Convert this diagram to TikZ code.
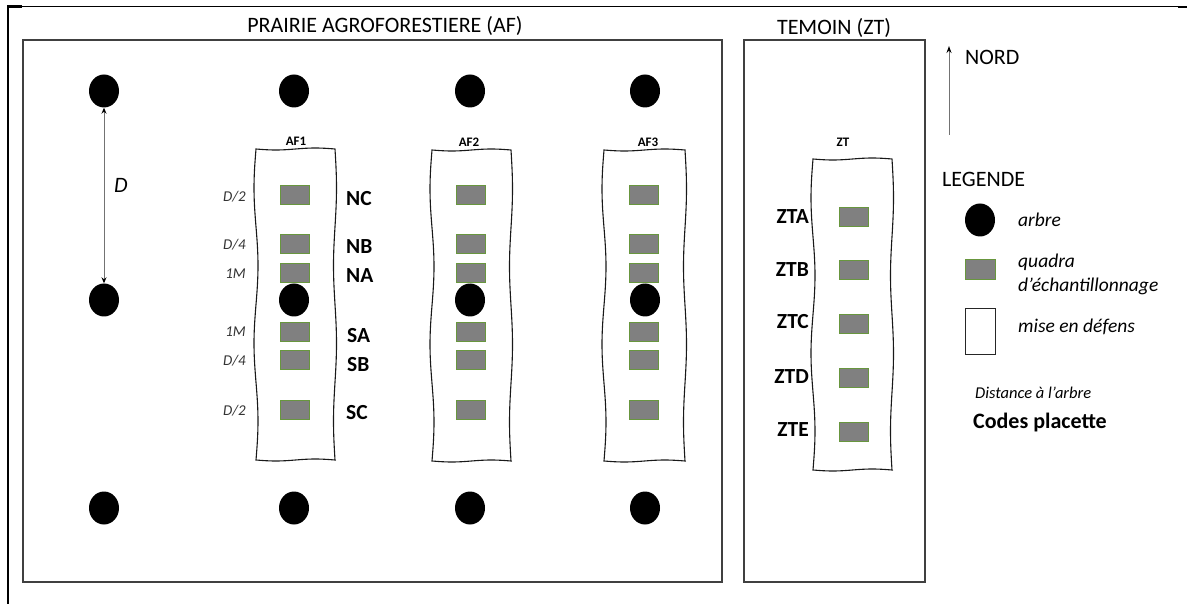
\documentclass[tikz,border=0pt]{standalone}
\usepackage{fontspec}
\setmainfont{Carlito}
\usetikzlibrary{shapes.geometric,arrows.meta}
\definecolor{qgray}{RGB}{128,128,128}
\definecolor{qgreen}{RGB}{104,150,62}
\newcommand{\wavystrip}[4]{%
  \draw[stripline] plot[domain=#1:#3,samples=25,variable=\yy] (\yy,{#2+1*sin((\yy-#1)/(#3-#1)*360)})
  -- plot[domain=#2:#4,samples=60,variable=\yy] ({#3+1.5*sin((\yy-#2)/(#4-#2)*720)},\yy)
  -- plot[domain=#3:#1,samples=25,variable=\yy] (\yy,{#4+1*sin((\yy-#1)/(#3-#1)*360)})
  -- plot[domain=#4:#2,samples=60,variable=\yy] ({#1-2*sin((\yy-#2)/(#4-#2)*720)},\yy) -- cycle;}
\begin{document}
\begin{tikzpicture}[x=1pt,y=-1pt,
  tree/.style={ellipse,fill=black,minimum width=30pt,minimum height=33pt,inner sep=0pt},
  quad/.style={rectangle,fill=qgray,draw=qgreen,line width=0.9pt,minimum width=29pt,minimum height=19pt,inner sep=0pt},
  field/.style={draw=black!75,line width=1.4pt},
  stripline/.style={draw=black!90,line width=1.1pt},
  big/.style={font=\fontsize{22}{26}\selectfont,inner sep=0pt},
  code/.style={font=\bfseries\fontsize{21.5}{25}\selectfont,inner sep=0pt},
  dist/.style={font=\itshape\fontsize{15}{18}\selectfont,inner sep=0pt,text=black!80},
  slab/.style={font=\bfseries\fontsize{13}{15}\selectfont,inner sep=0pt},
  leg/.style={font=\itshape\fontsize{19.5}{23}\selectfont,inner sep=0pt,anchor=base west},
  connector/.style={draw=black!55,line width=1pt}
]
\useasboundingbox (0,0) rectangle (1187,604);
% outer frame
\draw[line width=2pt] (8,604) -- (8,6.5);
\draw[line width=1.3pt] (7,6.5) -- (1187,6.5);
\draw[line width=2.6pt] (7,6.5) -- (22,6.5);
\draw[line width=2.6pt] (1178,7) -- (1187,7);
% fields
\draw[field] (23,40) rectangle (722,582);
\draw[field] (744,40) rectangle (925,582);
\node[big,anchor=base] (titleAF) at (385,33) {PRAIRIE AGROFORESTIERE (AF)};
\node[big,anchor=base] (titleZT) at (834,35) {TEMOIN (ZT)};
% strips
\wavystrip{256}{149}{335}{460}
\wavystrip{432}{150}{511}{461}
\wavystrip{604}{150}{685}{461}
\wavystrip{813}{159}{892}{470}
\node[slab,anchor=base] (lAF1) at (296,146) {AF1};
\node[slab,anchor=base] (lAF2) at (469,147) {AF2};
\node[slab,anchor=base] (lAF3) at (648,147) {AF3};
\node[slab,anchor=base] (lZT) at (843,147) {ZT};
% trees
\node[tree] (tA1) at (104,91) {};
\node[tree] (tA2) at (104,300) {};
\node[tree] (tA3) at (104,508) {};
\foreach \c/\xx in {1/294,2/470,3/645}{
  \node[tree] (t\c top) at (\xx,91) {};
  \node[tree] (t\c mid) at (\xx,300) {};
  \node[tree] (t\c bot) at (\xx,508) {};
}
% quadrats AF
\foreach \c/\xx in {1/295,2/471,3/644}{
  \foreach \q/\yy in {NC/195,NB/244,NA/273,SA/332,SB/360,SC/410}{
    \node[quad] (q\c\q) at (\xx,\yy) {};
  }
}
% distance labels
\node[dist,anchor=base east] (dNC) at (246,202) {D/2};
\node[dist,anchor=base east] (dNB) at (246,250) {D/4};
\node[dist,anchor=base east] (dNA) at (246,279) {1M};
\node[dist,anchor=base east] (dSA) at (246,337) {1M};
\node[dist,anchor=base east] (dSB) at (246,366) {D/4};
\node[dist,anchor=base east] (dSC) at (246,415) {D/2};
% codes AF
\node[code,anchor=base west] (cNC) at (346,206) {NC};
\node[code,anchor=base west] (cNB) at (346,254) {NB};
\node[code,anchor=base west] (cNA) at (346,283) {NA};
\node[code,anchor=base west] (cSA) at (347,342) {SA};
\node[code,anchor=base west] (cSB) at (347,371) {SB};
\node[code,anchor=base west] (cSC) at (346,419) {SC};
% D arrow
\draw[connector,{Stealth[length=6pt,width=5pt,black]}-{Stealth[length=6pt,width=5pt,black]}] (tA1) -- (tA2);
\node[font=\itshape\fontsize{22}{26}\selectfont,inner sep=0pt,anchor=base west] (lD) at (114,193) {D};
% ZT quadrats and codes
\foreach \q/\yy/\bb in {A/217/224,B/270/277,C/324/329,D/378/383,E/432/436}{
  \node[quad] (qZT\q) at (854,\yy) {};
  \node[code,anchor=base east] (cZT\q) at (809,\bb) {ZT\q};
}
% north arrow
\coordinate (n0) at (949,135);
\coordinate (n1) at (949,46);
\draw[connector,-{Stealth[length=7pt,width=5pt,black]}] (n0) -- (n1);
\node[big,anchor=base west] (nord) at (965,65) {NORD};
% legend
\node[big,anchor=base west] (legende) at (942,187) {LEGENDE};
\node[tree] (lgtree) at (980,220) {};
\node[leg] (lgtreet) at (1018,227) {arbre};
\node[quad,minimum width=30pt,minimum height=20pt] (lgquad) at (980,269) {};
\node[leg] (lgquadt1) at (1018,268) {quadra};
\node[leg] (lgquadt2) at (1018,292) {d’échantillonnage};
\node[draw=black!85,line width=1pt,minimum width=30pt,minimum height=45pt,inner sep=0pt] (lgdef) at (980,331.5) {};
\node[leg] (lgdeft) at (1018,333) {mise en défens};
\node[font=\itshape\fontsize{16.5}{20}\selectfont,inner sep=0pt,anchor=base west] (lgdist) at (975,398) {Distance à l’arbre};
\node[font=\bfseries\fontsize{22}{26}\selectfont,inner sep=0pt,anchor=base west] (lgcode) at (973,428) {Codes placette};
\end{tikzpicture}
\end{document}
